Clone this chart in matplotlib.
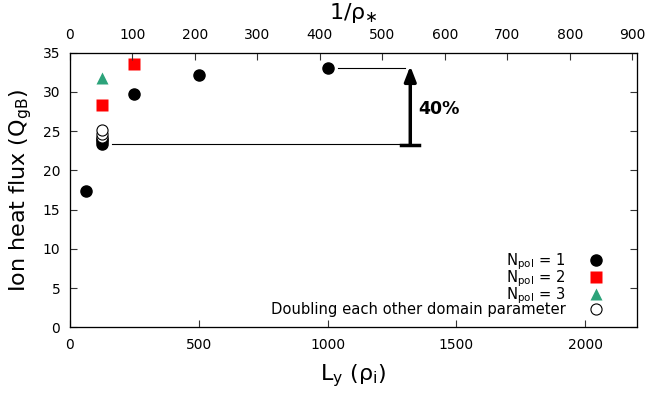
import numpy as np
import matplotlib.pyplot as plt

# data
ly_pol1 = [62, 125, 125, 125, 250, 500, 1000]
q_pol1 = [17.4, 23.4, 23.7, 24.0, 29.7, 32.1, 33.0]
ly_pol2 = [125, 250]
q_pol2 = [28.3, 33.5]
ly_pol3 = [125]
q_pol3 = [31.8]
ly_dbl = [125, 125, 125]
q_dbl = [24.3, 24.7, 25.1]

ly_per_rho = 2.425   # Ly / (1/rho*)
x_max = 2200
y_max = 35

fig = plt.figure(figsize=(6.64, 3.99), dpi=100)
ax = fig.add_axes([0.1054, 0.1797, 0.8535, 0.6882])

ms = 8
ax.plot(ly_pol1, q_pol1, "o", color="black", ms=ms, label=r"N$_{\rm pol}$ = 1", zorder=3)
ax.plot(ly_pol2, q_pol2, "s", color="#ff0000", ms=ms, mec="none", label=r"N$_{\rm pol}$ = 2", zorder=3)
ax.plot(ly_pol3, q_pol3, "^", color="#2ca37a", ms=ms, mec="none", label=r"N$_{\rm pol}$ = 3", zorder=3)
ax.plot(ly_dbl, q_dbl, "o", mfc="white", mec="black", mew=0.8, ms=ms,
        label="Doubling each other domain parameter", zorder=4)

# 40% annotation
x_arrow = 1321
ax.plot([163, x_arrow], [q_pol1[1], q_pol1[1]], color="black", lw=0.8)
ax.plot([1040, 1300], [q_pol1[-1], q_pol1[-1]], color="black", lw=0.8)
ax.plot([x_arrow - 35, x_arrow + 35], [q_pol1[1] - 0.1, q_pol1[1] - 0.1], color="black", lw=2.5)
ax.annotate("", xy=(x_arrow, q_pol1[-1] + 0.3), xytext=(x_arrow, q_pol1[1] - 0.1),
            arrowprops=dict(arrowstyle="-|>,head_length=0.9,head_width=0.35",
                            color="black", lw=2.5, shrinkA=0, shrinkB=0))
ax.text(x_arrow + 30, 27.8, "40%", fontsize=12.5, fontweight="bold", va="center", ha="left")

ax.set_xlim(0, x_max)
ax.set_ylim(0, y_max)
ax.set_xticks([0, 500, 1000, 1500, 2000])
ax.set_yticks(np.arange(0, 36, 5))
ax.tick_params(direction="in", length=5, labelsize=10, width=0.8, colors="#333333",
               labelcolor="black", right=True)
ax.tick_params(axis="x", pad=8)
ax.tick_params(axis="y", pad=7)
for s in ax.spines.values():
    s.set_color("#333333")
    s.set_linewidth(0.9)

ax.set_xlabel(r"L$_{\rm y}$ (ρ$_{\rm i}$)", fontsize=16, labelpad=7)
ax.set_ylabel(r"Ion heat flux (Q$_{\rm gB}$)", fontsize=16, labelpad=6)

top = ax.twiny()
top.set_xlim(0, x_max / ly_per_rho)
top.set_xticks(np.arange(0, 901, 100))
top.tick_params(direction="in", length=5, labelsize=10, width=0.8, colors="#333333",
                labelcolor="black", pad=8)
top.set_xlabel(r"1/ρ$_{\ast}$", fontsize=16, labelpad=6)

ax.legend(loc="lower right", frameon=False, markerfirst=False, fontsize=10.6,
          handletextpad=1.6, labelspacing=-0.25, borderaxespad=0.3, handlelength=1.0,
          bbox_to_anchor=(0.96, 0.0))

fig.savefig("out.png", dpi=100)
